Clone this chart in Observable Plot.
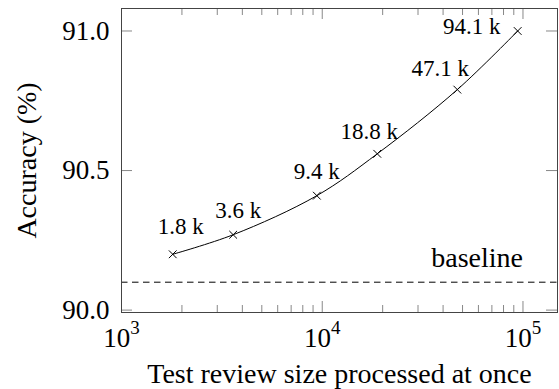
<!DOCTYPE html>
<html>
<head>
<meta charset="utf-8">
<script src="https://cdn.jsdelivr.net/npm/d3@7"></script>
<script src="https://cdn.jsdelivr.net/npm/@observablehq/plot@0.6"></script>
<style>
  html, body { margin: 0; padding: 0; background: #fff; }
  svg { display: block; }
  svg text, svg tspan { font-family: "Liberation Serif", "Times New Roman", serif !important; }
</style>
</head>
<body>
<div id="chart"></div>
<script>
// ---- data ----
const sizes = [1800, 3600, 9400, 18800, 47100, 94100];
const accuracy = [90.20, 90.27, 90.41, 90.56, 90.79, 91.00];
const sizeLabels = ["1.8 k", "3.6 k", "9.4 k", "18.8 k", "47.1 k", "94.1 k"];
const baselineAccuracy = 90.10;
const baselineLabel = "baseline";
const xMajorTicks = [1e3, 1e4, 1e5];
const xMinorTicks = [2e3, 3e3, 4e3, 5e3, 6e3, 7e3, 8e3, 9e3, 2e4, 3e4, 4e4, 5e4, 6e4, 7e4, 8e4, 9e4];
const yTicks = [90.0, 90.5, 91.0];
const xLabel = "Test review size processed at once";
const yLabel = "Accuracy (%)";

// label placement offsets (style, px)
const labelOffsets = [[8, -20], [5, -16.5], [0, -17], [-8, -15], [-17, -14], [-46, 3]];

const points = sizes.map((s, i) => ({size: s, acc: accuracy[i], label: sizeLabels[i]}));

const W = 559, H = 389;
const mL = 121, mR = 2, mT = 8, mB = 77;
const innerW = W - mL - mR, innerH = H - mT - mB;
const font = "'Liberation Serif', 'Times New Roman', serif";
const tickColor = "#888";

const labelMarks = points.map((p, i) =>
  Plot.text([p], {
    x: "size", y: "acc", text: "label",
    dx: labelOffsets[i][0], dy: labelOffsets[i][1],
    lineAnchor: "bottom", textAnchor: "middle",
    fontSize: 23, fontFamily: font, fill: "black"
  })
);

const plot = Plot.plot({
  width: W, height: H,
  marginLeft: mL, marginRight: mR, marginTop: mT, marginBottom: mB,
  style: {fontFamily: font, background: "white", color: "black"},
  x: {type: "log", domain: [1000, 148600], axis: null},
  y: {domain: [89.9914, 91.0806], axis: null},
  marks: [
    // ticks (inside, all four sides)
    Plot.tickX(xMajorTicks, {x: d => d, insetTop: innerH - 11, stroke: tickColor}),
    Plot.tickX(xMinorTicks, {x: d => d, insetTop: innerH - 7, stroke: tickColor}),
    Plot.tickX(xMajorTicks, {x: d => d, insetBottom: innerH - 11, stroke: tickColor}),
    Plot.tickX(xMinorTicks, {x: d => d, insetBottom: innerH - 7, stroke: tickColor}),
    Plot.tickY(yTicks, {y: d => d, insetRight: innerW - 11, stroke: tickColor}),
    Plot.tickY(yTicks, {y: d => d, insetLeft: innerW - 11, stroke: tickColor}),
    // baseline
    Plot.ruleY([baselineAccuracy], {stroke: "black", strokeWidth: 1, strokeDasharray: "6.5,4.5"}),
    Plot.text([baselineLabel], {x: xMajorTicks[2], y: baselineAccuracy, text: d => d,
      textAnchor: "end", lineAnchor: "bottom", dy: -15, fontSize: 28, fontFamily: font, fill: "black"}),
    // series
    Plot.line(points, {x: "size", y: "acc", stroke: "black", strokeWidth: 1, curve: "catmull-rom"}),
    Plot.dot(points, {x: "size", y: "acc", symbol: "times", r: 3.6, stroke: "black", strokeWidth: 1}),
    ...labelMarks,
    // tick labels
    Plot.text(xMajorTicks, {x: d => d, frameAnchor: "bottom", dy: 34, lineAnchor: "bottom",
      textAnchor: "middle", text: d => "10^" + Math.round(Math.log10(d)), fontSize: 27, fontFamily: font, fill: "black"}),
    Plot.text(yTicks, {y: d => d, frameAnchor: "left", dx: -12, textAnchor: "end", lineAnchor: "middle",
      text: d => d.toFixed(1), fontSize: 27, fontFamily: font, fill: "black"}),
    // axis labels
    Plot.text([xLabel], {frameAnchor: "bottom", dy: 70, lineAnchor: "bottom", textAnchor: "middle",
      text: d => d, fontSize: 28, fontFamily: font, fill: "black"}),
    Plot.text([yLabel], {frameAnchor: "left", dx: -86, rotate: -90, lineAnchor: "bottom", textAnchor: "middle",
      text: d => d, fontSize: 28, fontFamily: font, fill: "black"}),
    Plot.frame({stroke: "#444", strokeWidth: 1})
  ]
});

// superscripts for powers of ten
d3.select(plot).selectAll("text").each(function() {
  const t = d3.select(this);
  const s = t.text();
  if (/^10\^\d$/.test(s)) {
    const parts = s.split("^");
    t.text(parts[0]);
    t.append("tspan").attr("dy", -12.5).attr("font-size", 19).text(parts[1]);
  }
});

document.getElementById("chart").appendChild(plot);
</script>
</body>
</html>
